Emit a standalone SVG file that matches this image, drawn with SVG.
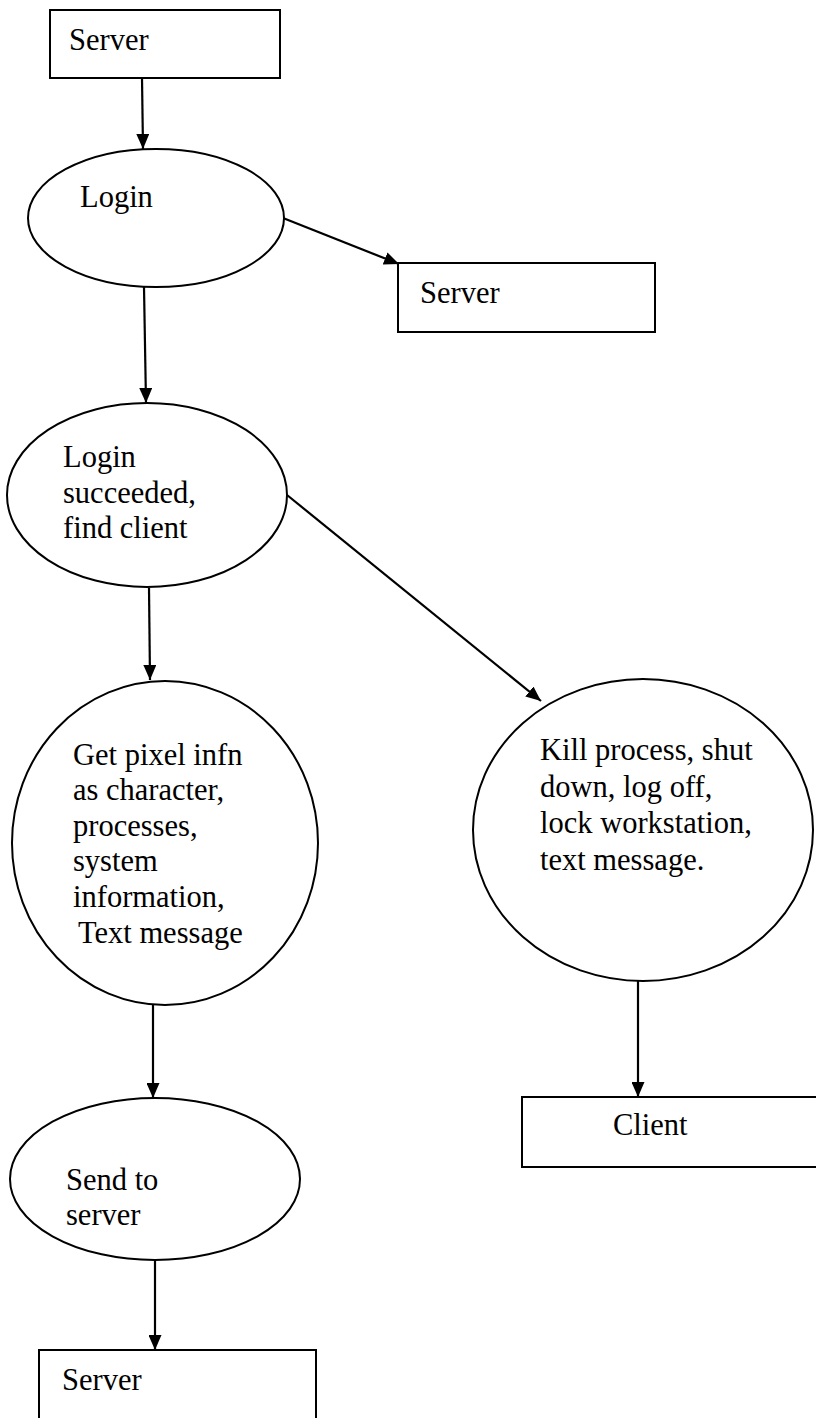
<svg xmlns="http://www.w3.org/2000/svg" width="816" height="1418" viewBox="0 0 816 1418">
  <defs>
    <style>
      .shape { fill: #ffffff; stroke: #000000; stroke-width: 2; }
      .label { font-family: "Liberation Serif", "Times New Roman", serif; font-size: 30.5px; fill: #000000; }
      .edge { fill: none; stroke: #000000; stroke-width: 2.2; }
    </style>
    <marker id="arrow" viewBox="0 0 15 13" refX="15" refY="6.5" markerWidth="15" markerHeight="13" markerUnits="userSpaceOnUse" orient="auto">
      <path d="M0,0 L15,6.5 L0,13 Z" fill="#000000"/>
    </marker>
  </defs>
  <rect width="816" height="1418" fill="#ffffff"/>

  <!-- connectors -->
  <g id="connectors">
    <line class="edge" x1="142" y1="78" x2="143" y2="149" marker-end="url(#arrow)"/>
    <line class="edge" x1="283" y1="218" x2="399" y2="264" marker-end="url(#arrow)"/>
    <line class="edge" x1="144" y1="287" x2="146" y2="403" marker-end="url(#arrow)"/>
    <line class="edge" x1="287" y1="495" x2="541" y2="701" marker-end="url(#arrow)"/>
    <line class="edge" x1="149" y1="588" x2="150" y2="680" marker-end="url(#arrow)"/>
    <line class="edge" x1="638" y1="981" x2="638" y2="1097" marker-end="url(#arrow)"/>
    <line class="edge" x1="153" y1="1005" x2="153" y2="1098" marker-end="url(#arrow)"/>
    <line class="edge" x1="155" y1="1260" x2="155" y2="1350" marker-end="url(#arrow)"/>
  </g>

  <!-- top server -->
  <g id="server-top">
    <rect class="shape" x="50" y="10" width="230" height="68"/>
    <text class="label" x="69" y="50">Server</text>
  </g>

  <!-- login -->
  <g id="login">
    <ellipse class="shape" cx="156" cy="218" rx="128" ry="69"/>
    <text class="label" x="80" y="207">Login</text>
  </g>

  <!-- server on the right of login -->
  <g id="server-right">
    <rect class="shape" x="398" y="263" width="257" height="69"/>
    <text class="label" x="420" y="303">Server</text>
  </g>

  <!-- login succeeded -->
  <g id="login-succeeded">
    <ellipse class="shape" cx="147" cy="495" rx="140" ry="92"/>
    <text class="label" x="63" y="467">Login</text>
    <text class="label" x="63" y="503">succeeded,</text>
    <text class="label" x="63" y="538">find client</text>
  </g>

  <!-- gather information -->
  <g id="get-info">
    <ellipse class="shape" cx="165" cy="843" rx="153" ry="162"/>
    <text class="label" x="73" y="765">Get pixel infn</text>
    <text class="label" x="73" y="800">as character,</text>
    <text class="label" x="73" y="836">processes,</text>
    <text class="label" x="73" y="871">system</text>
    <text class="label" x="73" y="907">information,</text>
    <text class="label" x="78" y="943">Text message</text>
  </g>

  <!-- remote actions -->
  <g id="actions">
    <ellipse class="shape" cx="643" cy="830" rx="170" ry="151"/>
    <text class="label" x="540" y="760">Kill process, shut</text>
    <text class="label" x="540" y="797">down, log off,</text>
    <text class="label" x="540" y="833">lock workstation,</text>
    <text class="label" x="540" y="870">text message.</text>
  </g>

  <!-- client -->
  <g id="client">
    <rect class="shape" x="522" y="1097" width="300" height="70"/>
    <text class="label" x="613" y="1135">Client</text>
  </g>

  <!-- send to server -->
  <g id="send-to-server">
    <ellipse class="shape" cx="155" cy="1179" rx="145" ry="81"/>
    <text class="label" x="66" y="1190">Send to</text>
    <text class="label" x="66" y="1225">server</text>
  </g>

  <!-- bottom server -->
  <g id="server-bottom">
    <rect class="shape" x="39" y="1350" width="277" height="90"/>
    <text class="label" x="62" y="1390">Server</text>
  </g>
</svg>
